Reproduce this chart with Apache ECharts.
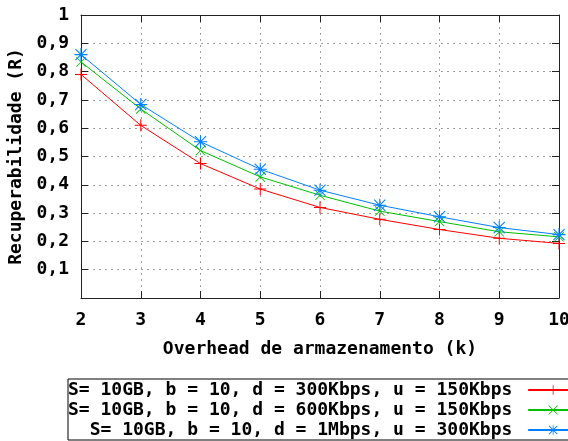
<!DOCTYPE html>
<html>
<head>
<meta charset="utf-8">
<script src="https://cdn.jsdelivr.net/npm/echarts@6/dist/echarts.min.js"></script>
<style>
html,body{margin:0;padding:0;background:#fff;}
#c{width:568px;height:441px;}
</style>
</head>
<body>
<div id="c"></div>
<script>
const kValues = [2, 3, 4, 5, 6, 7, 8, 9, 10];
const seriesNames = [
  'S= 10GB, b = 10, d = 300Kbps, u = 150Kbps',
  'S= 10GB, b = 10, d = 600Kbps, u = 150Kbps',
  'S= 10GB, b = 10, d = 1Mbps, u = 300Kbps'
];
const red300 = [0.79, 0.61, 0.475, 0.385, 0.32, 0.278, 0.242, 0.211, 0.193];
const green600 = [0.834, 0.668, 0.521, 0.428, 0.363, 0.307, 0.27, 0.234, 0.216];
const blue1M = [0.86, 0.684, 0.552, 0.455, 0.381, 0.328, 0.287, 0.249, 0.224];
const yTicks = [0.1, 0.2, 0.3, 0.4, 0.5, 0.6, 0.7, 0.8, 0.9, 1];
const xTitle = 'Overhead de armazenamento (k)';
const yTitle = 'Recuperabilidade (R)';

const FONT = 'DejaVu Sans Mono';
const colors = ['#ff0000', '#00c000', '#0080ff'];
const symPlus = 'path://M11,0h2v24h-2z M0,11h24v2h-24z';
const symX = 'path://M0,1.4L1.4,0L24,22.6L22.6,24Z M24,1.4L1.4,24L0,22.6L22.6,0Z';
const symStar = 'path://M11,0h2v24h-2z M0,11h24v2h-24z M1,2.4L2.4,1L23,21.6L21.6,23Z M23,2.4L2.4,23L1,21.6L21.6,1Z';
const symbols = [symPlus, symX, symStar];
const symSizes = [12, 10, 13];
const dataSets = [red300, green600, blue1M];

const maxLen = Math.max(...seriesNames.map(s => s.length));
function pad(s){ return ' '.repeat(maxLen - s.length) + s + ' '; }

function yFmt(v){
  if (Math.abs(v) < 1e-9) return '';
  const r = Math.round(v * 10) / 10;
  if (yTicks.indexOf(r) < 0) return '';
  return String(r).replace('.', ',');
}

const axisLineStyle = { color: '#222', width: 1 };
const gridLine = { show: true, lineStyle: { color: '#a0a0a0', width: 1, type: [2, 4] } };
const labelStyle = { fontFamily: FONT, fontWeight: 'bold', fontSize: 18, color: '#000' };

const chart = echarts.init(document.getElementById('c'), null, { renderer: 'canvas' });
chart.setOption({
  animation: false,
  backgroundColor: '#fff',
  grid: { left: 81, right: 9, top: 15, bottom: 143, containLabel: false, outerBoundsMode: 'none' },
  legend: {
    orient: 'vertical',
    left: 68,
    top: 379,
    align: 'right',
    padding: [1, 20, 0, 0],
    itemGap: 0,
    itemWidth: 50,
    itemHeight: 12,
    borderColor: '#000',
    borderWidth: 1,
    selectedMode: false,
    textStyle: { fontFamily: FONT, fontWeight: 'bold', fontSize: 18, color: '#000', lineHeight: 20 },
    formatter: pad,
    data: seriesNames
  },
  xAxis: [{
    type: 'value', min: 2, max: 10, interval: 1,
    name: xTitle, nameLocation: 'middle', nameGap: 42,
    nameTextStyle: labelStyle,
    axisLine: { show: true, onZero: false, lineStyle: axisLineStyle },
    axisTick: { show: true, inside: true, length: 7, lineStyle: axisLineStyle },
    axisLabel: Object.assign({ margin: 13, hideOverlap: false }, labelStyle),
    splitLine: gridLine
  }, {
    type: 'value', min: 2, max: 10, interval: 1, position: 'top',
    axisLine: { show: true, onZero: false, lineStyle: axisLineStyle },
    axisTick: { show: true, inside: true, length: 7, lineStyle: axisLineStyle },
    axisLabel: { show: false },
    splitLine: { show: false }
  }],
  yAxis: [{
    type: 'value', min: 0, max: 1, interval: 0.1,
    name: yTitle, nameLocation: 'middle', nameGap: 52, nameRotate: 90,
    nameTextStyle: labelStyle,
    axisLine: { show: true, onZero: false, lineStyle: axisLineStyle },
    axisTick: { show: true, inside: true, length: 7, lineStyle: axisLineStyle },
    axisLabel: Object.assign({ margin: 12, formatter: yFmt }, labelStyle),
    splitLine: gridLine
  }, {
    type: 'value', min: 0, max: 1, interval: 0.1, position: 'right',
    axisLine: { show: true, onZero: false, lineStyle: axisLineStyle },
    axisTick: { show: true, inside: true, length: 7, lineStyle: axisLineStyle },
    axisLabel: { show: false },
    splitLine: { show: false }
  }],
  series: seriesNames.map((name, i) => ({
    name: name,
    type: 'line',
    xAxisIndex: 0, yAxisIndex: 0,
    data: kValues.map((k, j) => [k, dataSets[i][j]]),
    symbol: symbols[i],
    symbolSize: symSizes[i],
    showSymbol: true,
    lineStyle: { color: colors[i], width: 1 },
    itemStyle: { color: colors[i], borderWidth: 0 },
    emphasis: { disabled: true },
    z: 3 + i
  }))
});
</script>
</body>
</html>
